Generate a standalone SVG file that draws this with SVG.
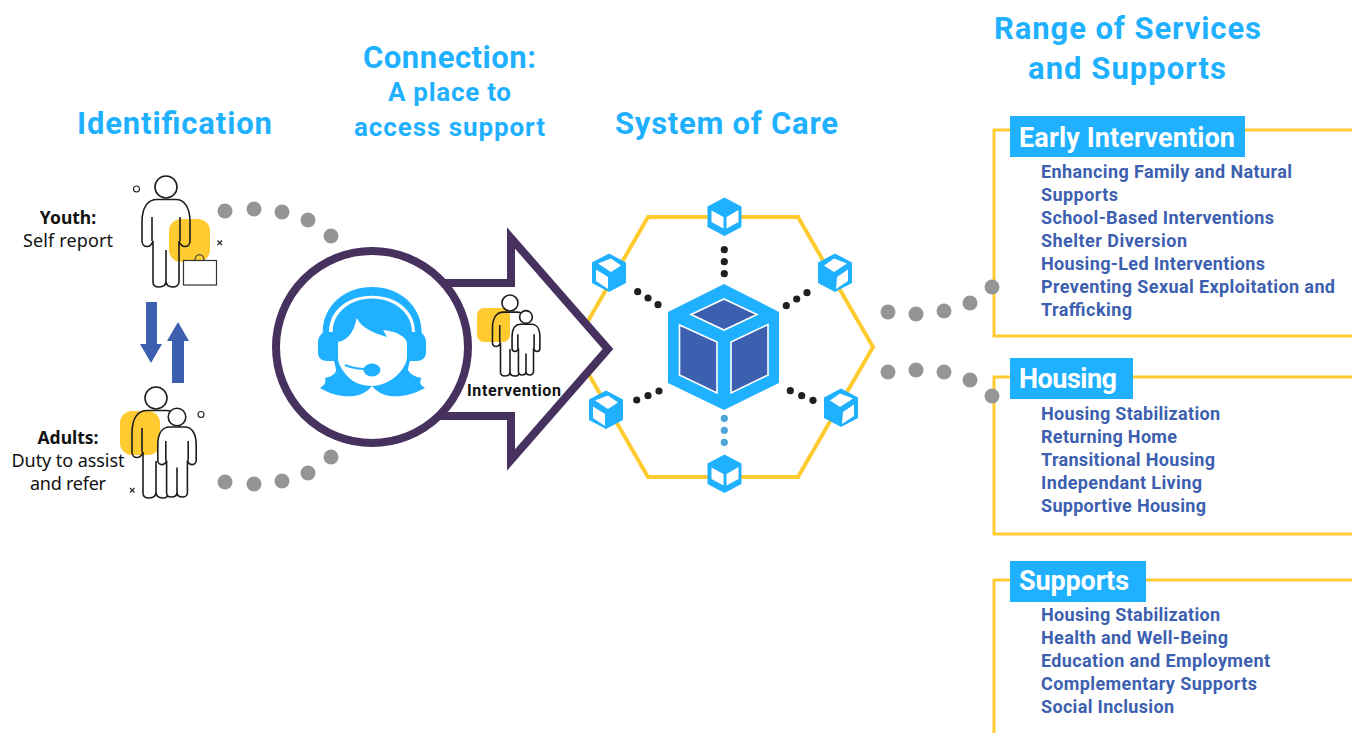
<svg xmlns="http://www.w3.org/2000/svg" width="1352" height="733" viewBox="0 0 1352 733">
<style>
text{font-family:"Roboto","Liberation Sans",sans-serif;font-weight:700}
.title{fill:#1fb1ff;font-size:31px}
.sub{fill:#1fb1ff;font-size:26px}
.tag{fill:#fff;font-size:27px}
.item{fill:#3d5fb0;font-size:18px}
.lab{font-family:"Noto Sans","Open Sans",sans-serif;font-size:18px;fill:#111;text-anchor:middle;font-weight:400}
.lab.b{font-weight:700;font-size:17.500px}
.ln{fill:none;stroke:#1c1c1c;stroke-width:1.600;vector-effect:non-scaling-stroke}
.w{fill:#fff}
.y{fill:#ffcb30}
.cb{fill:#1fb1ff}
.frame{fill:none;stroke:#ffcb30;stroke-width:3}
.d{fill:#959595}
.k{fill:#231f20}
.lb{fill:#4ea6d6}
.ar{fill:#3d5fb0}
</style>
<defs>
<g id="person">
<circle cx="166" cy="187" r="11" class="ln"/>
<path class="ln" d="M157,199.500H176C184,199.500 190,207 190,222V241C190,244 188,246.500 185,246.500C182,246.500 180,244 179,241V282C179,285 176,287 173,287C169,287 166,285 166,281C166,285 163,287 159,287C155,287 153,285 153,282V241C152,244 150,246.500 147,246.500C144,246.500 142,244 142,241V222C142,207 148,199.500 157,199.500ZM152,217V241M180,217V241M166,281V250"/>
</g>
<g id="child">
<circle cx="166" cy="187" r="11" class="w"/>
<path class="w" d="M157,199.500H176C184,199.500 190,207 190,222V241C190,244 188,246.500 185,246.500C182,246.500 180,244 179,241V282C179,285 176,287 173,287C169,287 166,285 166,281C166,285 163,287 159,287C155,287 153,285 153,282V241C152,244 150,246.500 147,246.500C144,246.500 142,244 142,241V222C142,207 148,199.500 157,199.500Z"/>
<use href="#person"/>
</g>
<g id="cubeA">
<path class="cb" d="M0,-19.500L17,-10.500V10L0,19L-17,10V-10.500Z"/>
<path class="w" d="M-13,-6.500L-1,0V11.500L-13,5ZM2,0L14,-7V5L2,11.500Z"/>
</g>
<g id="cubeB">
<path class="cb" d="M0,-19.500L17,-10.500V10L0,19L-17,10V-10.500Z"/>
<path class="w" d="M-11,-9.500L2,-14.500L12,-7.500L2,-1ZM-13,-3.500L-1,4V16L-13,8Z"/>
</g>
<g id="cubeC">
<path class="cb" d="M0,-19.500L17,-10.500V10L0,19L-17,10V-10.500Z"/>
<path class="w" d="M-11,-7.500L-1,-14.500L12,-9.500L-1,-1ZM2,4L13,-3.500V8L1,16Z"/>
</g>
</defs>

<g id="connectors">
<g class="d">
<circle cx="225" cy="211" r="7.500"/><circle cx="254" cy="209" r="7.500"/><circle cx="282" cy="212" r="7.500"/><circle cx="308" cy="220" r="7.500"/><circle cx="331" cy="236" r="7.500"/>
<circle cx="225" cy="482" r="7.500"/><circle cx="254" cy="484" r="7.500"/><circle cx="282" cy="481" r="7.500"/><circle cx="308" cy="473" r="7.500"/><circle cx="331" cy="457" r="7.500"/>
</g>
<g class="k">
<circle cx="724.300" cy="249.700" r="3.600"/><circle cx="724.300" cy="261.700" r="3.600"/><circle cx="724.300" cy="273.700" r="3.600"/>
<circle cx="637.700" cy="291.700" r="3.600"/><circle cx="648" cy="298" r="3.600"/><circle cx="658" cy="304.700" r="3.600"/>
<circle cx="786.300" cy="305.700" r="3.600"/><circle cx="796.700" cy="299" r="3.600"/><circle cx="807" cy="292.700" r="3.600"/>
<circle cx="636.700" cy="400" r="3.600"/><circle cx="648" cy="395.700" r="3.600"/><circle cx="659" cy="391" r="3.600"/>
<circle cx="790.300" cy="390.700" r="3.600"/><circle cx="801.700" cy="395.700" r="3.600"/><circle cx="813" cy="400.300" r="3.600"/>
</g>
<g class="lb">
<circle cx="724.300" cy="418.300" r="3.600"/><circle cx="724.300" cy="430.300" r="3.600"/><circle cx="724.300" cy="442.300" r="3.600"/>
</g>
<path class="ar" d="M146,302H157V344H162L151,363L140,344H146Z"/>
<path class="ar" d="M178,322L189,341H184V383H172V341H167Z"/>
</g>

<g id="identification">
<text class="title" x="77" y="134" textLength="195" lengthAdjust="spacing">Identification</text>
</g>

<g id="youth">
<rect class="y" x="169" y="219" width="41" height="43" rx="12"/>
<use href="#person"/>
<rect x="183.500" y="260.500" width="33" height="24.500" fill="#fff" stroke="#333" stroke-width="1.200"/>
<path d="M195,260C195,253 204,253 204,260" fill="none" stroke="#333" stroke-width="1.200"/>
<circle cx="136.500" cy="189" r="3" fill="none" stroke="#222" stroke-width="1.100"/>
<path d="M217.500,240.500L222,245M222,240.500L217.500,245" stroke="#222" stroke-width="1.100"/>
<text class="lab b" x="68" y="224">Youth:</text>
<text class="lab" x="68" y="247" textLength="90" lengthAdjust="spacing">Self report</text>
</g>

<g id="adults">
<rect class="y" x="120" y="411" width="40" height="44" rx="12"/>
<use href="#person" transform="translate(-10,211)"/>
<use href="#child" transform="translate(44.200,267.400) scale(.8)"/>
<circle cx="201" cy="414.500" r="3" fill="none" stroke="#222" stroke-width="1.100"/>
<path d="M130,488L134.500,492.500M134.500,488L130,492.500" stroke="#222" stroke-width="1.100"/>
<text class="lab b" x="68" y="444">Adults:</text>
<text class="lab" x="68" y="467" textLength="113" lengthAdjust="spacing">Duty to assist</text>
<text class="lab" x="68" y="490" textLength="76" lengthAdjust="spacing">and refer</text>
</g>

<g id="system-of-care">
<text class="title" x="615" y="134" textLength="223" lengthAdjust="spacing">System of Care</text>
<path d="M648,217H798L873,347L798,477H648L573,347Z" fill="none" stroke="#ffcb30" stroke-width="4"/>
<path class="cb" d="M724,284L779,312V383L724,410L668,383V312Z"/>
<g fill="#3d5fb0" stroke="#fff" stroke-width="1.600">
<path d="M724,299L757,314.500L724,330L691,314.500Z"/>
<path d="M679.500,325L717,342V393L679.500,375Z"/>
<path d="M731,342L768,324.500V375L731,393Z"/>
</g>
<use href="#cubeA" x="724.500" y="217"/>
<use href="#cubeA" x="724.500" y="474"/>
<use href="#cubeB" x="609" y="273"/>
<use href="#cubeC" x="835" y="273"/>
<use href="#cubeB" x="606" y="410"/>
<use href="#cubeC" x="841" y="408"/>
</g>

<g id="connection">
<text class="title" x="363" y="68" textLength="173" lengthAdjust="spacing">Connection:</text>
<text class="sub" x="388" y="101" textLength="123" lengthAdjust="spacing">A place to</text>
<text class="sub" x="354" y="136" textLength="191" lengthAdjust="spacing">access support</text>
<path d="M440,283H511V238L608,349L511,460V416H440" fill="#fff" stroke="#46315f" stroke-width="8"/>
<circle cx="372" cy="347" r="96" fill="#fff" stroke="#46315f" stroke-width="8"/>
<path class="cb" d="M322.700,333C322.700,305 345,287 372,287C399,287 421.700,305 421.700,333C424,335 426,338 426,342V353C426,358 421,361 417,361H410C409,365 408,368 408,370C410,374 415,377 421.700,378C419,382 420,385 425,388C412,395 402,397 390,396C382,395 376,391 372,386C368,391 362,395 354,396C342,397 332,395 320,388C325,385 326,382 325,378C330,377 334,375 336,371C336,368 335,365 334,361H327C322,361 318,358 318,353V342C318,338 320,335 322.700,333Z"/>
<path class="w" d="M329,332C329,310 348,295.700 372,295.700C396,295.700 415,310 415,332H412C412,313 394,298.500 372,298.500C350,298.500 332.700,313 332.700,332Z"/>
<path class="w" d="M338,342C348,340 354,332 356.700,318C360,324 364,327 369,330C374,333 381,335 387,337L383,330C390,331 396,332 400,335C404,337 407,340 407,344V358C405,372 388,386 372,386C360,386 350,381 344,372C340,367 338,362 338,358Z"/>
<path d="M345,365C352,368 359,369 366,369" fill="none" stroke="#1fb1ff" stroke-width="2"/>
<ellipse class="cb" cx="372" cy="370" rx="8.500" ry="6.500"/>
<rect class="y" x="477" y="308" width="33" height="34" rx="7"/>
<use href="#person" transform="translate(388.800,166.500) scale(.73)"/>
<use href="#child" transform="translate(429.700,208.500) scale(.58)"/>
<text x="467" y="396" font-size="16" fill="#111" textLength="94" lengthAdjust="spacing">Intervention</text>
</g>

<g id="range-title">
<text class="title" x="994" y="39" textLength="267" lengthAdjust="spacing">Range of Services</text>
<text class="title" x="1028" y="79" textLength="198" lengthAdjust="spacing">and Supports</text>
</g>

<g id="early-intervention">
<path class="frame" d="M1010,130H994V336H1352M1245,130H1352"/>
<g class="d"><circle cx="888" cy="312" r="7.500"/><circle cx="916" cy="314" r="7.500"/><circle cx="944" cy="311" r="7.500"/><circle cx="970" cy="303" r="7.500"/><circle cx="992" cy="287" r="7.500"/></g>
<rect class="cb" x="1010" y="116" width="235" height="41"/>
<text class="tag" x="1019" y="147" textLength="216" lengthAdjust="spacing">Early Intervention</text>
<g class="item">
<text x="1041" y="178" textLength="251" lengthAdjust="spacing">Enhancing Family and Natural</text>
<text x="1041" y="201" textLength="77" lengthAdjust="spacing">Supports</text>
<text x="1041" y="224" textLength="233" lengthAdjust="spacing">School-Based Interventions</text>
<text x="1041" y="247" textLength="146" lengthAdjust="spacing">Shelter Diversion</text>
<text x="1041" y="270" textLength="224" lengthAdjust="spacing">Housing-Led Interventions</text>
<text x="1041" y="293" textLength="294" lengthAdjust="spacing">Preventing Sexual Exploitation and</text>
<text x="1041" y="316" textLength="91" lengthAdjust="spacing">Trafficking</text>
</g>
</g>

<g id="housing">
<path class="frame" d="M1010,377H994V534H1352M1133,377H1352"/>
<g class="d"><circle cx="888" cy="372" r="7.500"/><circle cx="916" cy="370" r="7.500"/><circle cx="944" cy="372" r="7.500"/><circle cx="970" cy="380" r="7.500"/><circle cx="992" cy="396" r="7.500"/></g>
<rect class="cb" x="1010" y="358" width="123" height="41"/>
<text class="tag" x="1019" y="388" textLength="98" lengthAdjust="spacing">Housing</text>
<g class="item">
<text x="1041" y="420" textLength="179" lengthAdjust="spacing">Housing Stabilization</text>
<text x="1041" y="443" textLength="136" lengthAdjust="spacing">Returning Home</text>
<text x="1041" y="466" textLength="174" lengthAdjust="spacing">Transitional Housing</text>
<text x="1041" y="489" textLength="161" lengthAdjust="spacing">Independant Living</text>
<text x="1041" y="512" textLength="165" lengthAdjust="spacing">Supportive Housing</text>
</g>
</g>

<g id="supports">
<path class="frame" d="M1010,580H994V733M1146,580H1352"/>
<rect class="cb" x="1010" y="561" width="136" height="41"/>
<text class="tag" x="1019" y="590" textLength="110" lengthAdjust="spacing">Supports</text>
<g class="item">
<text x="1041" y="621" textLength="179" lengthAdjust="spacing">Housing Stabilization</text>
<text x="1041" y="644" textLength="187" lengthAdjust="spacing">Health and Well-Being</text>
<text x="1041" y="667" textLength="229" lengthAdjust="spacing">Education and Employment</text>
<text x="1041" y="690" textLength="216" lengthAdjust="spacing">Complementary Supports</text>
<text x="1041" y="713" textLength="133" lengthAdjust="spacing">Social Inclusion</text>
</g>
</g>
</svg>
